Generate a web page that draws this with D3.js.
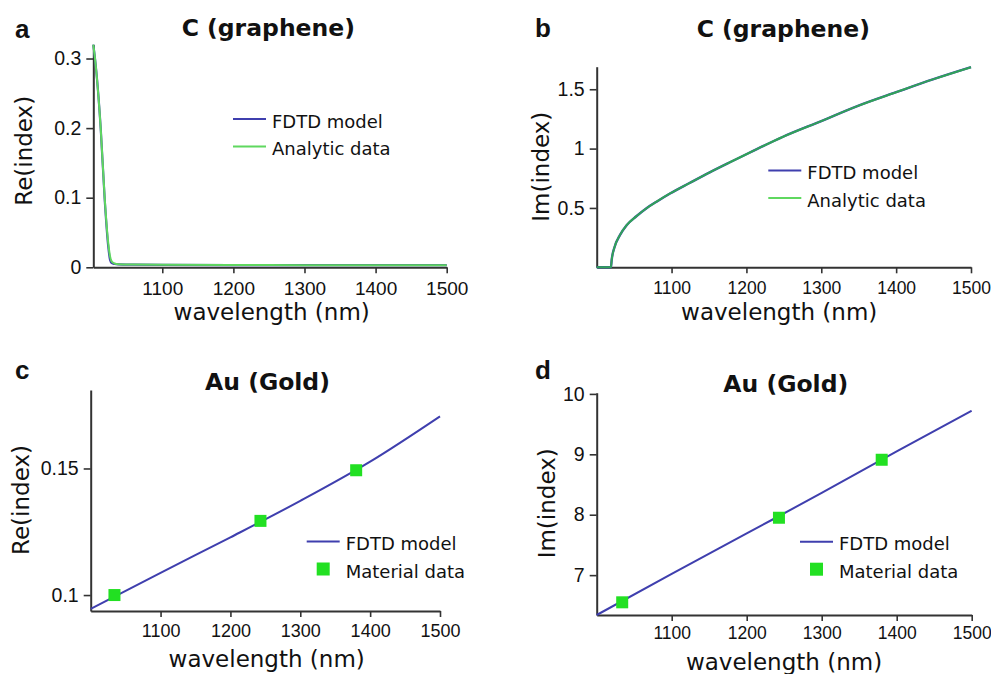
<!DOCTYPE html>
<html>
<head>
<meta charset="utf-8">
<script src="https://cdn.jsdelivr.net/npm/d3@7"></script>
<style>
  html, body { margin: 0; padding: 0; background: #fff; }
  svg { display: block; }
  .tick text { font-family: "Liberation Sans", Arial, sans-serif; fill: #111; }
  .lbl { font-family: "DejaVu Sans", sans-serif; fill: #111; }
</style>
</head>
<body>
<svg id="fig" width="991" height="674"></svg>
<script>
// ---- data ----------------------------------------------------------------
const wavelengthTicks = [1100, 1200, 1300, 1400, 1500];

// (a) graphene, real part of the refractive index
const grapheneReWavelength = [1003, 1005.4, 1013.4, 1019, 1024, 1026.5, 1029, 1033, 1038, 1060, 1100, 1200, 1300, 1400, 1500];
const grapheneReFdtd       = [0.320, 0.300, 0.200, 0.098, 0.030, 0.011, 0.006, 0.0048, 0.0042, 0.0038, 0.0034, 0.0031, 0.0030, 0.0030, 0.0030];
const grapheneReAnalytic   = [0.320, 0.300, 0.200, 0.100, 0.035, 0.016, 0.008, 0.0055, 0.0045, 0.0040, 0.0035, 0.0032, 0.0031, 0.0030, 0.0030];
const grapheneReTicks = [0, 0.1, 0.2, 0.3];

// (b) graphene, imaginary part of the refractive index
const grapheneImWavelength = [1000, 1019, 1020, 1024, 1031, 1040, 1053, 1067, 1080, 1098, 1124, 1151, 1178, 1204, 1249, 1300, 1349, 1400, 1449, 1500];
const grapheneImFdtd       = [0, 0, 0.061, 0.173, 0.271, 0.355, 0.430, 0.500, 0.553, 0.622, 0.710, 0.800, 0.885, 0.965, 1.100, 1.232, 1.360, 1.475, 1.583, 1.686];
const grapheneImAnalytic   = [0, 0, 0.061, 0.173, 0.271, 0.355, 0.430, 0.500, 0.553, 0.622, 0.710, 0.800, 0.885, 0.965, 1.100, 1.232, 1.360, 1.475, 1.583, 1.686];
const grapheneImTicks = [0.5, 1, 1.5];

// (c, d) gold
const goldWavelength = [1000, 1100, 1200, 1300, 1400, 1500];
const goldReFdtd     = [0.0945, 0.1088, 0.1228, 0.1372, 0.1527, 0.1706];
const goldImFdtd     = [6.34, 7.02, 7.69, 8.36, 9.05, 9.72];
const goldMaterialWavelength = [1034, 1243, 1380];
const goldReMaterial = [0.100, 0.1293, 0.1493];
const goldImMaterial = [6.55, 7.95, 8.91];
const goldReTicks = [0.1, 0.15];
const goldImTicks = [7, 8, 9, 10];

// ---- drawing -------------------------------------------------------------
const svg = d3.select("#fig");
const BLUE = "#3f3fae";
const GREEN = "#5fd85f";
const MARK = "#22e022";
const AXIS = "#333";

function series(xs, ys) { return xs.map((x, i) => ({ x, y: ys[i] })); }

function panel(p) {
  const g = svg.append("g");
  const x = d3.scaleLinear().domain(p.xDomain).range(p.xRange);
  const y = d3.scaleLinear().domain(p.yDomain).range(p.yRange);

  // axes
  const xa = g.append("g").attr("transform", `translate(0,${p.yRange[0]})`)
    .call(d3.axisBottom(x).tickValues(wavelengthTicks).tickFormat(d3.format("d"))
      .tickSize(6).tickSizeOuter(0).tickPadding(p.xPad));
  xa.selectAll(".tick text").style("font-size", p.xFont + "px");
  const ya = g.append("g").attr("transform", `translate(${p.xRange[0]},0)`)
    .call(d3.axisLeft(y).tickValues(p.yTicks).tickFormat(p.yFormat)
      .tickSize(7).tickSizeOuter(0).tickPadding(5));
  ya.selectAll(".tick text").style("font-size", "19.5px");
  [xa, ya].forEach(a => {
    a.select(".domain").attr("stroke", AXIS).attr("stroke-width", 2);
    a.selectAll(".tick line").attr("stroke", AXIS).attr("stroke-width", 1.6);
  });

  const line = d3.line().x(d => x(d.x)).y(d => y(d.y)).curve(d3.curveMonotoneX);
  p.lines.forEach(l => {
    g.append("path").datum(l.data).attr("fill", "none")
      .attr("stroke", l.color).attr("stroke-width", l.width)
      .attr("stroke-opacity", l.opacity || 1)
      .attr("stroke-linejoin", "round").attr("d", line);
  });
  if (p.points) {
    g.selectAll(null).data(p.points).enter().append("rect")
      .attr("x", d => x(d.x) - 6).attr("y", d => y(d.y) - 6)
      .attr("width", 12).attr("height", 12).attr("fill", MARK);
  }

  // texts
  g.append("text").attr("class", "lbl").attr("x", p.letter[0]).attr("y", p.letter[1])
    .style("font-family", "'Liberation Sans', Arial, sans-serif")
    .style("font-weight", "bold").style("font-size", "26px").text(p.letterText);
  g.append("text").attr("class", "lbl").attr("x", p.title[0]).attr("y", p.title[1])
    .attr("text-anchor", "middle").style("font-weight", "bold").style("font-size", "23.5px")
    .text(p.titleText);
  g.append("text").attr("class", "lbl").attr("x", p.xLabel[0]).attr("y", p.xLabel[1])
    .attr("text-anchor", "middle").style("font-size", "23px").text("wavelength (nm)");
  g.append("text").attr("class", "lbl")
    .attr("transform", `translate(${p.yLabel[0]},${p.yLabel[1]}) rotate(-90)`)
    .attr("text-anchor", "middle").style("font-size", "23px").text(p.yLabelText);

  // legend
  const lg = g.append("g").attr("transform", `translate(${p.legend[0]},${p.legend[1]})`);
  p.legendItems.forEach((it, i) => {
    const yy = i * 27.5;
    if (it.type === "line") {
      lg.append("line").attr("x1", 0).attr("x2", 33).attr("y1", yy).attr("y2", yy)
        .attr("stroke", it.color).attr("stroke-width", 2);
    } else {
      lg.append("rect").attr("x", 10).attr("y", yy - 6.5).attr("width", 13).attr("height", 13)
        .attr("fill", it.color);
    }
    lg.append("text").attr("class", "lbl").attr("x", 39).attr("y", yy + 8.5)
      .style("font-size", "18px").text(it.label);
  });
}

// (a)
panel({
  xDomain: [1003, 1500], xRange: [93.3, 446.7],
  yDomain: [0, 0.32], yRange: [267.3, 44.6],
  yTicks: grapheneReTicks, yFormat: d => d === 0 ? "0" : d3.format(".1f")(d),
  xPad: 8, xFont: 19,
  lines: [
    { data: series(grapheneReWavelength, grapheneReFdtd), color: BLUE, width: 2.2 },
    { data: series(grapheneReWavelength, grapheneReAnalytic), color: GREEN, width: 2 }
  ],
  letter: [15, 38], letterText: "a",
  title: [268.3, 36], titleText: "C (graphene)",
  xLabel: [271.7, 320], yLabel: [32, 150.8], yLabelText: "Re(index)",
  legend: [233, 119],
  legendItems: [
    { type: "line", color: BLUE, label: "FDTD model" },
    { type: "line", color: GREEN, label: "Analytic data" }
  ]
});

// (b)
panel({
  xDomain: [1000, 1500], xRange: [596.7, 971],
  yDomain: [0, 1.69], yRange: [267.3, 66.7],
  yTicks: grapheneImTicks, yFormat: d => String(d),
  xPad: 8, xFont: 17.5,
  lines: [
    { data: series(grapheneImWavelength, grapheneImFdtd), color: BLUE, width: 2.4 },
    { data: series(grapheneImWavelength, grapheneImAnalytic), color: "#2fae4f", width: 2, opacity: 0.9 }
  ],
  letter: [535, 37], letterText: "b",
  title: [783.3, 36.5], titleText: "C (graphene)",
  xLabel: [779.2, 320], yLabel: [548.5, 166.7], yLabelText: "Im(index)",
  legend: [768.3, 170.5],
  legendItems: [
    { type: "line", color: BLUE, label: "FDTD model" },
    { type: "line", color: GREEN, label: "Analytic data" }
  ]
});

// (c)
panel({
  xDomain: [1000, 1500], xRange: [90.7, 440],
  yDomain: [0.0937, 0.181], yRange: [611, 390],
  yTicks: goldReTicks, yFormat: d => String(d),
  xPad: 7, xFont: 18,
  lines: [{ data: series(goldWavelength, goldReFdtd), color: BLUE, width: 2 }],
  points: series(goldMaterialWavelength, goldReMaterial),
  letter: [15, 379], letterText: "c",
  title: [267.5, 389.5], titleText: "Au (Gold)",
  xLabel: [266.7, 667], yLabel: [28.5, 500], yLabelText: "Re(index)",
  legend: [306.7, 541.5],
  legendItems: [
    { type: "line", color: BLUE, label: "FDTD model" },
    { type: "rect", color: MARK, label: "Material data" }
  ]
});

// (d)
panel({
  xDomain: [1000, 1500], xRange: [596.7, 971.7],
  yDomain: [6.34, 10.02], yRange: [615, 392.7],
  yTicks: goldImTicks, yFormat: d => String(d),
  xPad: 6, xFont: 17.5,
  lines: [{ data: series(goldWavelength, goldImFdtd), color: BLUE, width: 2 }],
  points: series(goldMaterialWavelength, goldImMaterial),
  letter: [535, 379], letterText: "d",
  title: [785.8, 391.7], titleText: "Au (Gold)",
  xLabel: [784, 670], yLabel: [555, 503.3], yLabelText: "Im(index)",
  legend: [800, 541.7],
  legendItems: [
    { type: "line", color: BLUE, label: "FDTD model" },
    { type: "rect", color: MARK, label: "Material data" }
  ]
});
</script>
</body>
</html>
